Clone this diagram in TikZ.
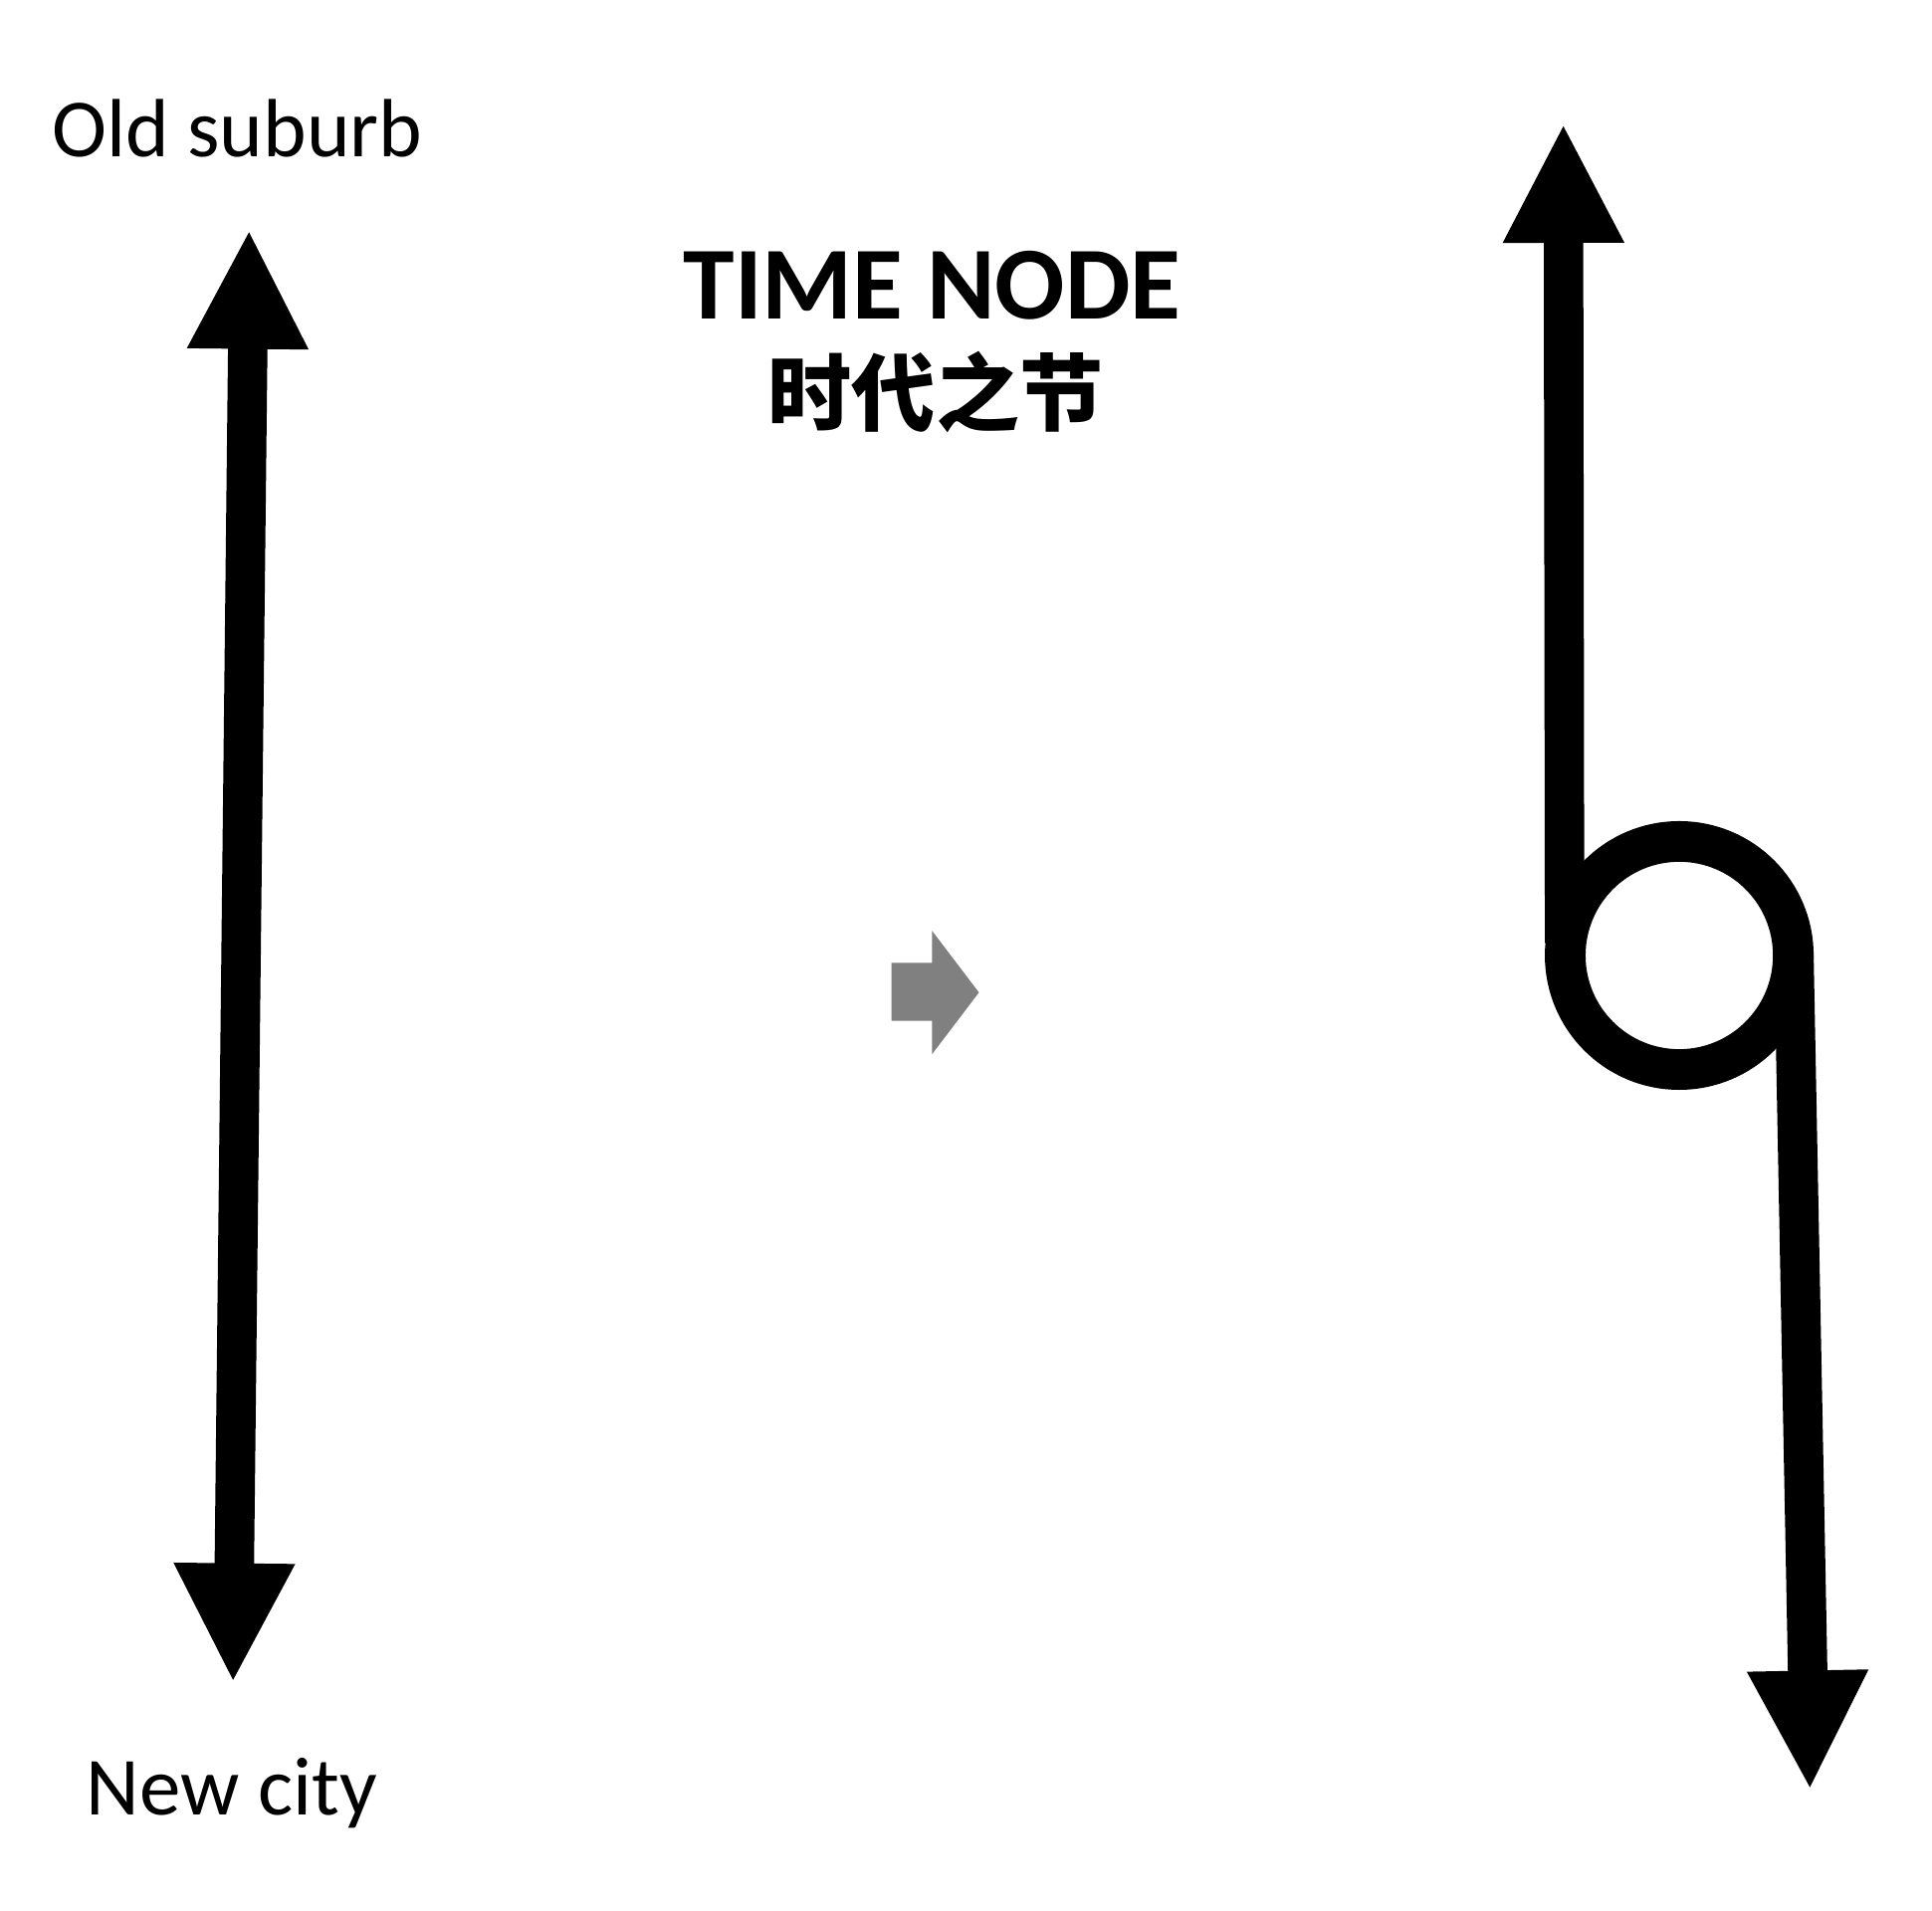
\documentclass[tikz,border=0pt]{standalone}
\usepackage{fontspec}
\setmainfont{Carlito}
\newfontfamily\cjk{Noto Sans CJK SC}
\usetikzlibrary{arrows.meta}
\tikzset{
	bigarrow/.style={line width=32pt, -{Triangle[length=97pt,width=91pt]}},
	label/.style={inner sep=0pt, font=\fontsize{67}{80}\selectfont},
}

\begin{document}
\begin{tikzpicture}[x=1pt, y=-1pt]
			%%%%% START %%%%%
			\useasboundingbox (0, 0) rectangle (1567, 1550);
			
			\node[label, anchor=base west] (old) at (42, 127) {Old suburb};
			\node[label, anchor=base west] (new) at (70, 1472) {New city};
			
			\node[inner sep=0pt, anchor=base, font=\fontsize{84}{96}\selectfont\bfseries] (title) at (756, 259) {TIME NODE};
			\node[inner sep=0pt, anchor=base, font=\fontsize{68}{80}\selectfont\cjk\bfseries] (titlecn) at (759, 344) {时代之节};
			
			\coordinate (oldtip) at (202, 186);
			\coordinate (newtip) at (189, 1365);
			\draw[bigarrow, {Triangle[length=97pt,width=91pt]}-{Triangle[length=97pt,width=91pt]}] (oldtip) -- (newtip);
			
			\fill[color=black!50] (723, 781) -- (756, 781) -- (756, 755) -- (794, 805) -- (756, 855) -- (756, 828) -- (723, 828) -- cycle;
			
			\coordinate (ring) at (1362, 775);
			\coordinate (upfoot) at (1269, 765);
			\coordinate (uptip) at (1268, 100);
			\coordinate (downfoot) at (1455, 775);
			\coordinate (downtip) at (1468, 1452);
			\draw[line width=33pt] (ring) circle (92.5);
			\draw[bigarrow] (upfoot) -- (uptip);
			\draw[bigarrow] (downfoot) -- (downtip);
			
			%%%%% END %%%%%
\end{tikzpicture}
\end{document}
